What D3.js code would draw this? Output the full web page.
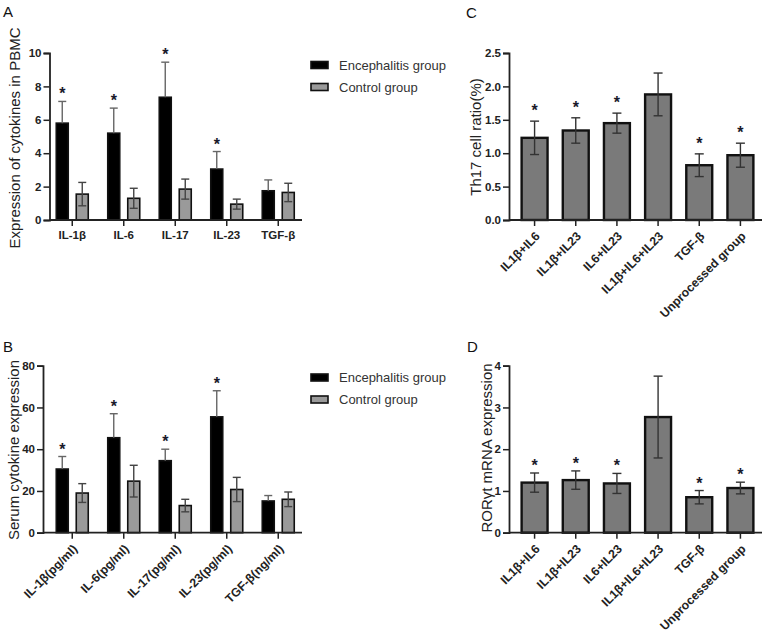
<!DOCTYPE html>
<html><head><meta charset="utf-8">
<script src="https://cdn.jsdelivr.net/npm/d3@7"></script>
<style>
body{margin:0;background:#fff;}
text{font-family:"Liberation Sans",Arial,sans-serif;}
</style></head>
<body>
<svg id="chart" width="769" height="638"></svg>
<script>
// ---- Data ----
const catsA = ["IL-1β","IL-6","IL-17","IL-23","TGF-β"];
const encA = [5.8, 5.2, 7.35, 3.05, 1.75];
const encAErr = [1.3, 1.5, 2.1, 1.05, 0.65];
const ctlA = [1.55, 1.3, 1.85, 0.95, 1.65];
const ctlAErr = [0.7, 0.6, 0.6, 0.3, 0.55];
const starsA = [1, 1, 1, 1, 0];
const ticksA = [0, 2, 4, 6, 8, 10];

const catsB = ["IL-1β(pg/ml)","IL-6(pg/ml)","IL-17(pg/ml)","IL-23(pg/ml)","TGF-β(ng/ml)"];
const encB = [30.5, 45.5, 34.5, 55.5, 15.2];
const encBErr = [6, 11.5, 5.5, 12.5, 2.6];
const ctlB = [19, 24.7, 13, 20.7, 16];
const ctlBErr = [4.5, 7.6, 3, 5.8, 3.5];
const starsB = [1, 1, 1, 1, 0];
const ticksB = [0, 20, 40, 60, 80];

const seriesNames = ["Encephalitis group", "Control group"];

const catsCD = ["IL1β+IL6","IL1β+IL23","IL6+IL23","IL1β+IL6+IL23","TGF-β","Unprocessed group"];
const valC = [1.23, 1.34, 1.45, 1.88, 0.82, 0.97];
const errC = [0.25, 0.19, 0.15, 0.32, 0.17, 0.18];
const starsC = [1, 1, 1, 0, 1, 1];
const ticksC = [0, 0.5, 1.0, 1.5, 2.0, 2.5];

const valD = [1.2, 1.26, 1.18, 2.77, 0.85, 1.07];
const errD = [0.23, 0.22, 0.24, 0.98, 0.16, 0.14];
const starsD = [1, 1, 1, 0, 1, 1];
const ticksD = [0, 1, 2, 3, 4];

// ---- Drawing ----
const svg = d3.select("#chart");
const FONT = '"Liberation Sans",Arial,sans-serif';

function panelLabel(t, x, y) {
  svg.append("text").attr("x", x).attr("y", y).attr("font-size", 15)
    .attr("fill", "#111").text(t);
}

function yTitle(t, x, y, fs) {
  svg.append("text").attr("transform", `translate(${x},${y}) rotate(-90)`)
    .attr("text-anchor", "middle").attr("dominant-baseline", "central")
    .attr("font-size", fs).attr("fill", "#222").text(t);
}

function axes(g, x, y, x0, x1, y0, ticks, fmt, rotate) {
  const ya = g.append("g").attr("transform", `translate(${x0},0)`)
    .call(d3.axisLeft(y).tickValues(ticks).tickFormat(fmt).tickSize(6).tickPadding(2));
  ya.select(".domain").attr("stroke", "#222").attr("stroke-width", 1.8);
  ya.selectAll(".tick line").attr("stroke", "#222").attr("stroke-width", 1.5);
  ya.selectAll("text").attr("font-family", FONT).attr("font-weight", "bold")
    .attr("font-size", 11.5).attr("fill", "#222");
  const xa = g.append("g").attr("transform", `translate(0,${y0})`)
    .call(d3.axisBottom(x).tickSize(6).tickPadding(5));
  xa.select(".domain").remove();
  xa.selectAll(".tick line").attr("stroke", "#222").attr("stroke-width", 1.5);
  const xt = xa.selectAll("text").attr("font-family", FONT).attr("font-weight", "bold")
    .attr("font-size", rotate ? 12.2 : 11.5).attr("fill", "#222");
  if (rotate) {
    xt.attr("text-anchor", "end").attr("dy", null).attr("y", 0)
      .attr("transform", "translate(6,17) rotate(-45)");
  }
  g.append("line").attr("x1", x0).attr("x2", x1).attr("y1", y0).attr("y2", y0)
    .attr("stroke", "#222").attr("stroke-width", 1.8);
}

function errBar(g, cx, yTop, yBot, hw, color) {
  g.append("line").attr("x1", cx).attr("x2", cx).attr("y1", yTop).attr("y2", yBot)
    .attr("stroke", color).attr("stroke-width", 1.4);
  g.append("line").attr("x1", cx - hw).attr("x2", cx + hw).attr("y1", yTop).attr("y2", yTop)
    .attr("stroke", color).attr("stroke-width", 1.4);
  g.append("line").attr("x1", cx - hw).attr("x2", cx + hw).attr("y1", yBot).attr("y2", yBot)
    .attr("stroke", color).attr("stroke-width", 1.4);
}

function star(g, cx, yTop, off) {
  g.append("text").attr("x", cx).attr("y", yTop - off).attr("text-anchor", "middle")
    .attr("font-size", 16).attr("font-weight", "bold").attr("fill", "#1a1a2a").text("*");
}

function grouped(cfg) {
  const g = svg.append("g");
  const x = d3.scaleBand().domain(cfg.cats).range([cfg.bx0, cfg.bx1]);
  const sub = d3.scaleBand().domain([0, 1]).range([-16, 16]).paddingInner(0.4);
  const y = d3.scaleLinear().domain([0, cfg.ymax]).range([cfg.y0, cfg.y1]);
  const series = [cfg.enc, cfg.ctl];
  const errs = [cfg.encErr, cfg.ctlErr];
  const fills = ["#000", "#9a9a9a"];
  series.forEach((vals, s) => {
    vals.forEach((v, i) => {
      const cx = x(cfg.cats[i]) + x.bandwidth() / 2 + sub(s) + sub.bandwidth() / 2;
      g.append("rect").attr("x", cx - sub.bandwidth() / 2).attr("width", sub.bandwidth())
        .attr("y", y(v)).attr("height", y(0) - y(v))
        .attr("fill", fills[s]).attr("stroke", "#111").attr("stroke-width", 1.6);
      const e = errs[s][i];
      if (s === 0) {
        g.append("line").attr("x1", cx).attr("x2", cx).attr("y1", y(v + e)).attr("y2", y(v))
          .attr("stroke", "#666").attr("stroke-width", 1.4);
        g.append("line").attr("x1", cx - 4).attr("x2", cx + 4).attr("y1", y(v + e)).attr("y2", y(v + e))
          .attr("stroke", "#666").attr("stroke-width", 1.4);
      } else {
        errBar(g, cx, y(v + e), y(v - e), 4, "#444");
      }
      if (s === 0 && cfg.stars[i]) star(g, cx, y(v + e), cfg.starOff);
    });
  });
  axes(g, x, y, cfg.ax0, cfg.ax1, cfg.y0, cfg.ticks, d3.format("d"), cfg.rotate);
  seriesNames.forEach((n, s) => {
    const ly = cfg.legY + s * 22;
    g.append("rect").attr("x", 311).attr("y", ly - 3.5).attr("width", 17).attr("height", 7)
      .attr("fill", fills[s]).attr("stroke", "#111").attr("stroke-width", 1.6);
    g.append("text").attr("x", 339).attr("y", ly).attr("dominant-baseline", "central")
      .attr("font-size", 13).attr("fill", "#333").text(n);
  });
}

function single(cfg) {
  const g = svg.append("g");
  const x = d3.scaleBand().domain(cfg.cats).range([cfg.bx0, cfg.bx1]).paddingInner(0.37).paddingOuter(0.185);
  const y = d3.scaleLinear().domain([0, cfg.ymax]).range([cfg.y0, cfg.y1]);
  cfg.vals.forEach((v, i) => {
    const cx = x(cfg.cats[i]) + x.bandwidth() / 2;
    g.append("rect").attr("x", x(cfg.cats[i])).attr("width", x.bandwidth())
      .attr("y", y(v)).attr("height", y(0) - y(v))
      .attr("fill", "#7a7a7a").attr("stroke", "#111").attr("stroke-width", 2.4);
    const e = cfg.errs[i];
    errBar(g, cx, y(v + e), y(v - e), 4.5, "#333");
    if (cfg.stars[i]) star(g, cx, y(v + e), cfg.starOff);
  });
  axes(g, x, y, cfg.ax0, cfg.ax1, cfg.y0, cfg.ticks, cfg.fmt, true);
}

// Panel A
panelLabel("A", 3, 17);
yTitle("Expression of cytokines in PBMC", 14, 138, 15);
grouped({cats: catsA, enc: encA, encErr: encAErr, ctl: ctlA, ctlErr: ctlAErr, stars: starsA,
  ticks: ticksA, ymax: 10, y0: 220, y1: 53, bx0: 46.5, bx1: 304, ax0: 49.5, ax1: 302,
  legY: 65, starOff: 2, rotate: false});

// Panel B
panelLabel("B", 3, 352);
yTitle("Serum cytokine expression", 13, 450, 15);
grouped({cats: catsB, enc: encB, encErr: encBErr, ctl: ctlB, ctlErr: ctlBErr, stars: starsB,
  ticks: ticksB, ymax: 80, y0: 532.7, y1: 365.7, bx0: 46.5, bx1: 304, ax0: 43, ax1: 302,
  legY: 377.5, starOff: 2, rotate: true});

// Panel C
panelLabel("C", 466, 18);
yTitle("Th17 cell ratio(%)", 475, 137, 15);
single({cats: catsCD, vals: valC, errs: errC, stars: starsC, ticks: ticksC, ymax: 2.5,
  y0: 220, y1: 53, bx0: 514, bx1: 761, ax0: 509, ax1: 762, starOff: 5, fmt: d3.format(".1f")});

// Panel D
panelLabel("D", 467, 352);
yTitle("RORγt mRNA expression", 486.5, 448, 15);
single({cats: catsCD, vals: valD, errs: errD, stars: starsD, ticks: ticksD, ymax: 4,
  y0: 532.7, y1: 365.7, bx0: 514, bx1: 761, ax0: 509, ax1: 762, starOff: 2, fmt: d3.format("d")});
</script>
</body></html>
